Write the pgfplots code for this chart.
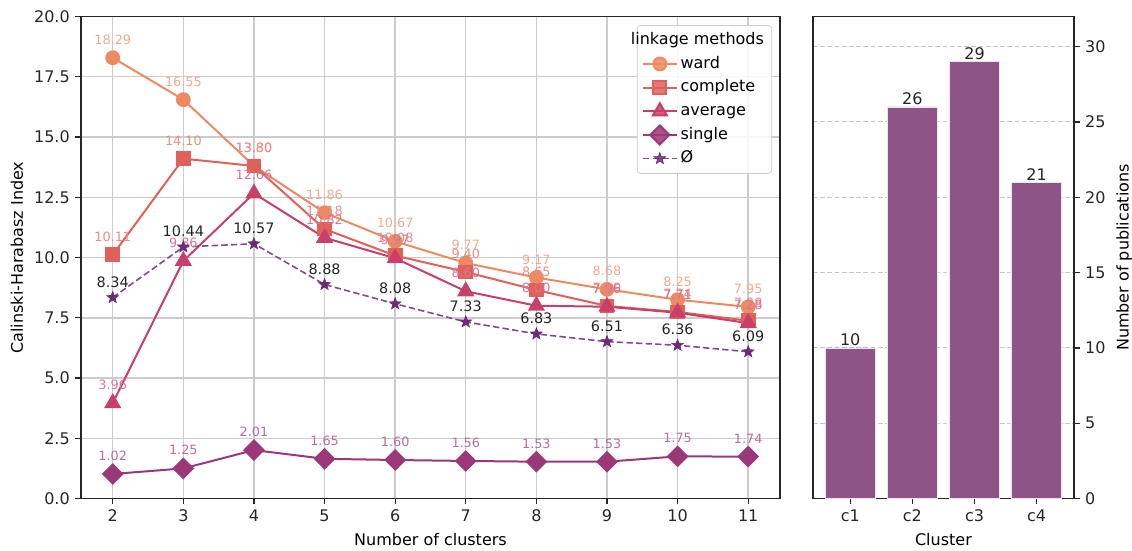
\documentclass[border=0pt]{standalone}
\usepackage{pgfplots}
\pgfplotsset{compat=1.18}
\usepackage{fontspec}
\setmainfont{DejaVu Sans}
\definecolor{cward}{HTML}{EC8A62}
\definecolor{ccomp}{HTML}{E0605A}
\definecolor{cavg}{HTML}{C8406A}
\definecolor{csing}{HTML}{9B3878}
\definecolor{cnull}{HTML}{6B2C76}
\definecolor{cbar}{HTML}{8E5488}
\pgfdeclareplotmark{fstar}{%
  \pgfpathmoveto{\pgfpointpolar{90}{\pgfplotmarksize}}%
  \pgfpathlineto{\pgfpointpolar{126}{0.42\pgfplotmarksize}}%
  \pgfpathlineto{\pgfpointpolar{162}{\pgfplotmarksize}}%
  \pgfpathlineto{\pgfpointpolar{198}{0.42\pgfplotmarksize}}%
  \pgfpathlineto{\pgfpointpolar{234}{\pgfplotmarksize}}%
  \pgfpathlineto{\pgfpointpolar{270}{0.42\pgfplotmarksize}}%
  \pgfpathlineto{\pgfpointpolar{306}{\pgfplotmarksize}}%
  \pgfpathlineto{\pgfpointpolar{342}{0.42\pgfplotmarksize}}%
  \pgfpathlineto{\pgfpointpolar{18}{\pgfplotmarksize}}%
  \pgfpathlineto{\pgfpointpolar{54}{0.42\pgfplotmarksize}}%
  \pgfpathclose
  \pgfusepathqfillstroke}
\pgfplotsset{/pgf/number format/assume math mode=true,
  lbl/.style={nodes near coords={\pgfmathprintnumber[fixed,fixed zerofill,precision=2]{\pgfplotspointmeta}},
    point meta=y, nodes near coords align=vertical,
    every node near coord/.append style={font=\fontsize{8}{9}\selectfont, text=#1, inner sep=0pt, yshift=7.7pt}},
  blbl/.style={nodes near coords={\pgfmathprintnumber[fixed,fixed zerofill,precision=2]{\pgfplotspointmeta}},
    point meta=y, nodes near coords align=vertical,
    every node near coord/.append style={font=\fontsize{9}{10}\selectfont, text=black!85, inner sep=0pt, yshift=6.2pt}},
}
\begin{document}
\begin{tikzpicture}
\useasboundingbox (-50.6pt,-32.2pt) rectangle (656.9pt,311.6pt);
\begin{axis}[
  at={(0,0)}, anchor=south west,
  width=436.9pt, height=301.3pt, scale only axis,
  xmin=1.55, xmax=11.45, ymin=0, ymax=20,
  xtick={2,...,11}, ytick={0,2.5,...,20},
  yticklabel style={/pgf/number format/.cd, fixed, fixed zerofill, precision=1},
  ticklabel style={font=\fontsize{10}{12}\selectfont, text=black!85},
  label style={font=\fontsize{10}{12}\selectfont},
  grid=major, major grid style={black!20, line width=0.9pt},
  tick align=outside, major tick length=3.5pt, xtick pos=bottom, ytick pos=left,
  every tick/.style={black!85, line width=0.8pt},
  axis line style={line width=0.8pt, black!85},
  xlabel={Number of clusters}, ylabel={Calinski-Harabasz Index},
  legend cell align=left,
  legend image code/.code={\draw[mark repeat=2,mark phase=2] plot coordinates {(0pt,0pt) (10.5pt,0pt) (21pt,0pt)};},
  legend style={at={(1,1)}, anchor=north east, xshift=-5pt, yshift=-5.4pt,
    draw=black!20, rounded corners=2pt, fill=white, fill opacity=0.85, text opacity=1,
    font=\fontsize{10}{12}\selectfont, inner xsep=3pt, inner ysep=2.5pt, row sep=1.3pt,
    nodes={inner sep=1.8pt, text height=7.6pt, text depth=2.3pt}},
]
\addlegendimage{empty legend}
\addlegendentry{\hspace{-31pt}linkage methods}
\addplot[cward, line width=1.25pt, mark=*, mark size=4pt, mark options={solid, fill=cward, draw=cward}, lbl=cward!72] coordinates {
(2,18.29)(3,16.55)(4,13.80)(5,11.86)(6,10.67)(7,9.77)(8,9.17)(9,8.68)(10,8.25)(11,7.95)};
\addlegendentry{ward}
\addplot[ccomp, line width=1.25pt, mark=square*, mark size=4pt, mark options={solid, fill=ccomp, draw=ccomp}, lbl=ccomp!72] coordinates {
(2,10.11)(3,14.10)(4,13.80)(5,11.18)(6,10.08)(7,9.40)(8,8.65)(9,7.99)(10,7.74)(11,7.38)};
\addlegendentry{complete}
\addplot[cavg, line width=1.25pt, mark=triangle*, mark size=5pt, mark options={solid, fill=cavg, draw=cavg}, lbl=cavg!72] coordinates {
(2,3.96)(3,9.86)(4,12.66)(5,10.82)(6,9.97)(7,8.60)(8,8.00)(9,7.96)(10,7.71)(11,7.28)};
\addlegendentry{average}
\addplot[csing, line width=1.25pt, mark=square*, mark size=4.2pt, mark options={solid, rotate=45, fill=csing, draw=csing}, lbl=csing!72] coordinates {
(2,1.02)(3,1.25)(4,2.01)(5,1.65)(6,1.60)(7,1.56)(8,1.53)(9,1.53)(10,1.75)(11,1.74)};
\addlegendentry{single}
\addplot[cnull!85, line width=1pt, dash pattern=on 4pt off 2pt, mark=fstar, mark size=3.8pt, mark options={solid, fill=cnull, draw=cnull, line width=0.4pt}, blbl] coordinates {
(2,8.34)(3,10.44)(4,10.57)(5,8.88)(6,8.08)(7,7.33)(8,6.83)(9,6.51)(10,6.36)(11,6.09)};
\addlegendentry{Ø}
\end{axis}
\begin{axis}[
  at={(457.5pt,0)}, anchor=south west,
  width=163.1pt, height=301.3pt, scale only axis,
  xmin=-0.6, xmax=3.6, ymin=0, ymax=32,
  xtick={0,1,2,3}, xticklabels={c1,c2,c3,c4}, ytick={0,5,...,30},
  ticklabel style={font=\fontsize{10}{12}\selectfont, text=black!85},
  label style={font=\fontsize{10}{12}\selectfont},
  tick align=outside, major tick length=3.5pt, xtick pos=bottom, ytick pos=right,
  yticklabel pos=right, ylabel near ticks,
  every tick/.style={black!85, line width=0.8pt},
  axis line style={line width=0.8pt, black!85},
  ymajorgrids, major grid style={black!22, line width=0.7pt, dash pattern=on 3pt off 1.5pt},
  xlabel={Cluster}, ylabel={Number of publications},
]
\addplot[ybar, bar width=0.8, fill=cbar, draw=white!85!cbar, line width=0.4pt,
  nodes near coords, point meta=y, nodes near coords align=vertical,
  every node near coord/.append style={font=\fontsize{10}{12}\selectfont, text=black!85, inner sep=1pt}]
  coordinates {(0,10)(1,26)(2,29)(3,21)};
\end{axis}
\end{tikzpicture}
\end{document}
